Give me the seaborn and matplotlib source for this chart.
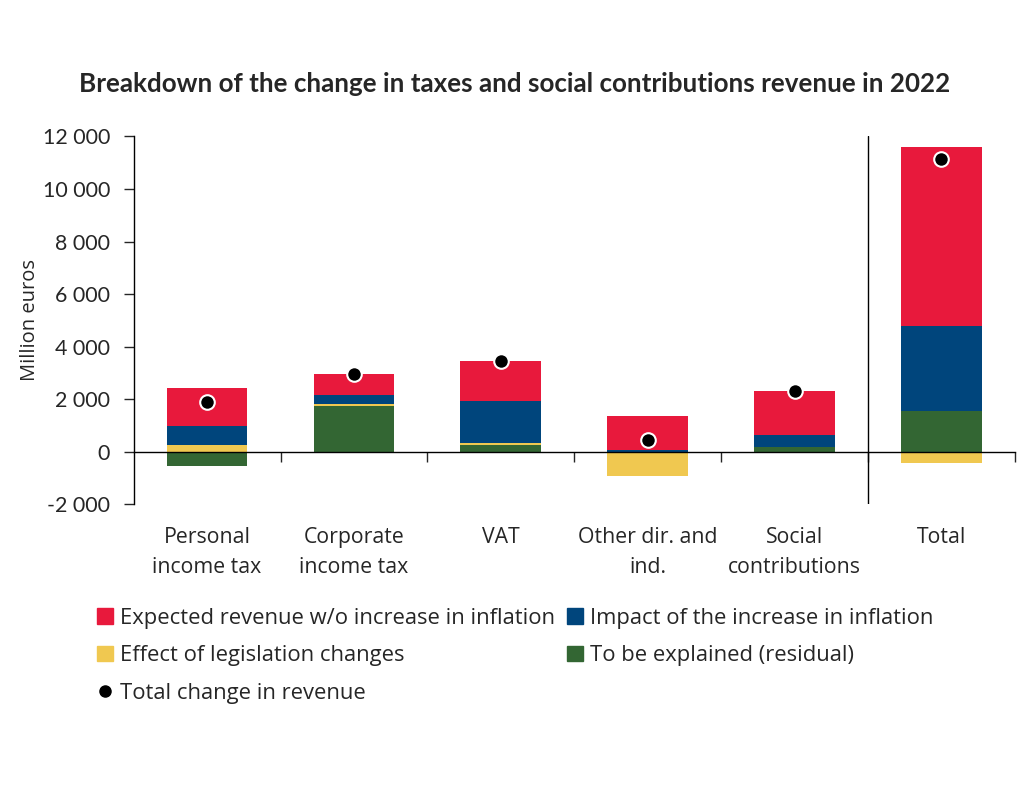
import matplotlib.pyplot as plt
import matplotlib.ticker as mticker
from matplotlib.patches import Patch
from matplotlib.lines import Line2D
import seaborn as sns
import numpy as np
import pandas as pd

# data (million euros)
categories = ["Personal\nincome tax", "Corporate\nincome tax", "VAT",
              "Other dir. and\nind.", "Social\ncontributions", "Total"]
residual = [-530, 1750, 270, -30, 170, 1560]
legislation = [270, 80, 75, -870, 30, -410]
inflation = [720, 340, 1600, 70, 450, 3240]
expected = [1450, 800, 1520, 1300, 1680, 6780]
total_change = [1880, 2960, 3440, 460, 2300, 11120]

series_names = ["To be explained (residual)", "Effect of legislation changes",
                "Impact of the increase in inflation",
                "Expected revenue w/o increase in inflation"]
series_colors = ["#336633", "#F0C850", "#00457C", "#E8193C"]

sns.set_style("white")
plt.rcParams['font.family'] = ['Lato', 'DejaVu Sans']
side_font = ['Open Sans', 'DejaVu Sans']

fig = plt.figure(figsize=(10.2, 8.02), dpi=100)
ax = fig.add_axes([0.131, 0.371, 0.864, 0.459])

x = np.arange(len(categories))
pos_base = np.zeros(len(categories))
neg_base = np.zeros(len(categories))
for name, vals, col in zip(series_names, [residual, legislation, inflation, expected], series_colors):
    vals = np.array(vals, dtype=float)
    bottoms = np.where(vals >= 0, pos_base, neg_base)
    ax.bar(x, vals, width=0.55, bottom=bottoms, color=col, edgecolor="none", label=name, zorder=2)
    pos_base = pos_base + np.where(vals >= 0, vals, 0)
    neg_base = neg_base + np.where(vals < 0, vals, 0)

df = pd.DataFrame({"x": x, "total": total_change})
sns.scatterplot(data=df, x="x", y="total", ax=ax, color="black", s=110,
                edgecolor="white", linewidth=1.5, zorder=3, legend=False)

ax.set_xlim(-0.5, 5.5)
ax.set_ylim(-2000, 12000)
ax.set_yticks(np.arange(-2000, 12001, 2000))
ax.yaxis.set_major_formatter(mticker.FuncFormatter(lambda v, p: f"{int(v):,}".replace(",", " ")))
ax.tick_params(axis="y", direction="out", length=7, width=1, labelsize=15.4, pad=10, left=True)

ax.set_xticks(np.arange(0.5, 6, 1))
ax.set_xticklabels([])
ax.tick_params(axis="x", which="major", direction="out", length=7, width=1, bottom=True)
for xi, cat in zip(x, categories):
    ax.text(xi, -2850, cat, ha="center", va="top", fontsize=15.3,
            family=side_font, linespacing=1.55)

ax.spines["bottom"].set_position(("data", 0))
ax.spines["top"].set_visible(False)
ax.spines["right"].set_visible(False)
for sp in ["bottom", "left"]:
    ax.spines[sp].set_color("black")
    ax.spines[sp].set_linewidth(1)
ax.axvline(4.5, color="black", lw=1, zorder=1)
ax.set_xlabel("")
ax.set_ylabel("Million euros", fontsize=14.5, family=side_font, labelpad=2)

fig.suptitle("Breakdown of the change in taxes and social contributions revenue in 2022",
             x=0.505, y=0.91, fontsize=18.7, fontweight="bold")

handles = [Patch(color=series_colors[3]), Patch(color=series_colors[1]),
           Line2D([], [], marker="o", color="black", ls="none", markersize=8),
           Patch(color=series_colors[2]), Patch(color=series_colors[0])]
labels = [series_names[3], series_names[1], "Total change in revenue",
          series_names[2], series_names[0]]
fig.legend(handles, labels, loc="upper left", bbox_to_anchor=(0.076, 0.267), ncol=2,
           frameon=False, handlelength=0.7, handleheight=0.7,
           handletextpad=0.35, columnspacing=0.55, labelspacing=0.76,
           prop={"family": side_font, "size": 15.8})

fig.savefig("out.png", dpi=100, facecolor="white")
